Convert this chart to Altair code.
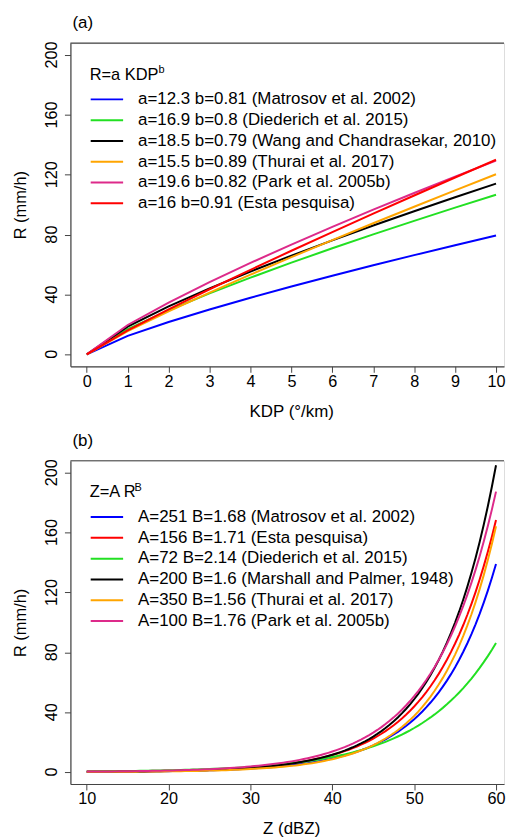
import altair as alt
import numpy as np
import pandas as pd

# ---- R = a * KDP^b relations ----
kdp_a = [12.3, 16.9, 18.5, 15.5, 19.6, 16]
kdp_b = [0.81, 0.8, 0.79, 0.89, 0.82, 0.91]
kdp_refs = [
    "Matrosov et al. 2002",
    "Diederich et al. 2015",
    "Wang and Chandrasekar, 2010",
    "Thurai et al. 2017",
    "Park et al. 2005b",
    "Esta pesquisa",
]
kdp_colors = ["#0000ff", "#22e022", "#000000", "#ffa500", "#dd2a8a", "#ff0000"]
kdp_values = list(range(0, 11))  # KDP (deg/km)

# ---- Z = A * R^B relations ----
z_A = [251, 156, 72, 200, 350, 100]
z_B = [1.68, 1.71, 2.14, 1.6, 1.56, 1.76]
z_refs = [
    "Matrosov et al. 2002",
    "Esta pesquisa",
    "Diederich et al. 2015",
    "Marshall and Palmer, 1948",
    "Thurai et al. 2017",
    "Park et al. 2005b",
]
z_colors = ["#0000ff", "#ff0000", "#22e022", "#000000", "#ffa500", "#dd2a8a"]
dbz_values = list(np.arange(10, 60.001, 0.5))  # reflectivity (dBZ)

r_ticks = [0, 40, 80, 120, 160, 200]

FONT = "Liberation Sans"
W, H = 436, 325
BOX = "#444444"


def kdp_frame(labels):
    rows = []
    for lab, col, a, b in zip(labels, kdp_colors, kdp_a, kdp_b):
        for k in kdp_values:
            rows.append({"series": lab, "col": col, "x": k, "r": a * k ** b})
    return pd.DataFrame(rows)


def dbz_frame(labels):
    rows = []
    for lab, col, A, B in zip(labels, z_colors, z_A, z_B):
        for d in dbz_values:
            rows.append({"series": lab, "col": col, "x": float(d),
                         "r": (10 ** (d / 10.0) / A) ** (1.0 / B)})
    return pd.DataFrame(rows)


def one_row():
    return pd.DataFrame({"k": [0]})


def panel(df, colors, labels, xdomain, xticks, xtitle, tag, head, sup, sup_x):
    xscale = alt.Scale(domain=xdomain, nice=False, zero=False)
    yscale = alt.Scale(domain=[-8, 208], nice=False, zero=False)
    xaxis = alt.Axis(
        values=xticks, title=xtitle, grid=False, tickSize=6, tickColor=BOX,
        domainColor=BOX, domainWidth=1.2, labelFontSize=16.3, labelFont=FONT,
        labelColor="#000", labelBaseline="alphabetic", labelPadding=14,
        labelOverlap=False, titleFont=FONT, titleFontSize=17, titleFontWeight="normal",
        titleColor="#000", titleX=222, titleY=50, titleBaseline="alphabetic",
        titleAlign="center",
    )
    # y tick labels are drawn as rotated text below, so the axis keeps only ticks
    yaxis = alt.Axis(
        values=r_ticks, title="R (mm/h)", grid=False, tickSize=6,
        tickColor=BOX, domainColor=BOX, domainWidth=1.2, labels=False,
        titleFont=FONT, titleFontSize=16.5, titleFontWeight="normal", titleColor="#000",
        titleAngle=270, titleX=-45.6, titleY=162.5, titleBaseline="alphabetic",
        titleAlign="center",
    )
    # all relations in one line layer; series drawn in listed order
    curves = alt.Chart(df).mark_line(strokeWidth=2).encode(
        x=alt.X("x:Q", scale=xscale, axis=xaxis),
        y=alt.Y("r:Q", scale=yscale, axis=yaxis),
        color=alt.Color("col:N", scale=None),
        detail="series:N",
    )
    layers = [curves]
    # rotated tick labels of the R axis
    tick_df = pd.DataFrame({"v": r_ticks, "lab": [str(v) for v in r_ticks]})
    layers.append(
        alt.Chart(tick_df).mark_text(
            angle=270, align="center", baseline="alphabetic", font=FONT,
            fontSize=16.3, color="#000",
        ).encode(
            x=alt.value(-13),
            y=alt.Y("v:Q", scale=yscale, axis=yaxis),
            text="lab:N",
        )
    )
    # top edge of the plot box
    layers.append(
        alt.Chart(one_row()).mark_rule(color=BOX, strokeWidth=1.2).encode(
            x=alt.value(0), x2=alt.value(W), y=alt.value(0)
        )
    )
    # legend heading with superscript exponent
    layers.append(
        alt.Chart(one_row()).mark_text(
            text=head, font=FONT, fontSize=16.5, align="left", baseline="alphabetic", color="#000"
        ).encode(x=alt.value(19.4), y=alt.value(36.8))
    )
    layers.append(
        alt.Chart(one_row()).mark_text(
            text=sup, font=FONT, fontSize=11, align="left", baseline="alphabetic", color="#000"
        ).encode(x=alt.value(sup_x), y=alt.value(30.5))
    )
    # legend entries
    for i, (lab, col) in enumerate(zip(labels, colors)):
        yy = 56.6 + 20.9 * i
        layers.append(
            alt.Chart(one_row()).mark_rule(color=col, strokeWidth=2).encode(
                x=alt.value(20.4), x2=alt.value(53), y=alt.value(yy)
            )
        )
        layers.append(
            alt.Chart(one_row()).mark_text(
                text=lab, font=FONT, fontSize=17, align="left", baseline="alphabetic", color="#000"
            ).encode(x=alt.value(68), y=alt.value(yy + 4.8))
        )
    # panel tag
    layers.append(
        alt.Chart(one_row()).mark_text(
            text=tag, font=FONT, fontSize=17, align="left", baseline="alphabetic", color="#000"
        ).encode(x=alt.value(2), y=alt.value(-15))
    )
    return alt.layer(*layers).properties(width=W, height=H)


kdp_labels = [f"a={a:g} b={b:g} ({r})" for a, b, r in zip(kdp_a, kdp_b, kdp_refs)]
z_labels = [f"A={A:g} B={B:g} ({r})" for A, B, r in zip(z_A, z_B, z_refs)]

top = panel(
    kdp_frame(kdp_labels),
    kdp_colors,
    kdp_labels,
    [-0.4, -0.4 + W / 41.15],
    list(range(0, 11)),
    "KDP (°/km)",
    "(a)",
    "R=a KDP",
    "b",
    88.5,
)

bottom = panel(
    dbz_frame(z_labels),
    z_colors,
    z_labels,
    [8, 8 + W / 8.23],
    [10, 20, 30, 40, 50, 60],
    "Z (dBZ)",
    "(b)",
    "Z=A R",
    "B",
    64.5,
)

chart = (
    alt.vconcat(top, bottom, spacing=95, bounds="flush")
    .properties(padding={"left": 10.8, "top": 11, "right": 0, "bottom": 0})
    .configure_view(stroke=None)
    .configure(background="white")
)

chart.save("out.html", embed_options={"renderer": "svg", "actions": False})
